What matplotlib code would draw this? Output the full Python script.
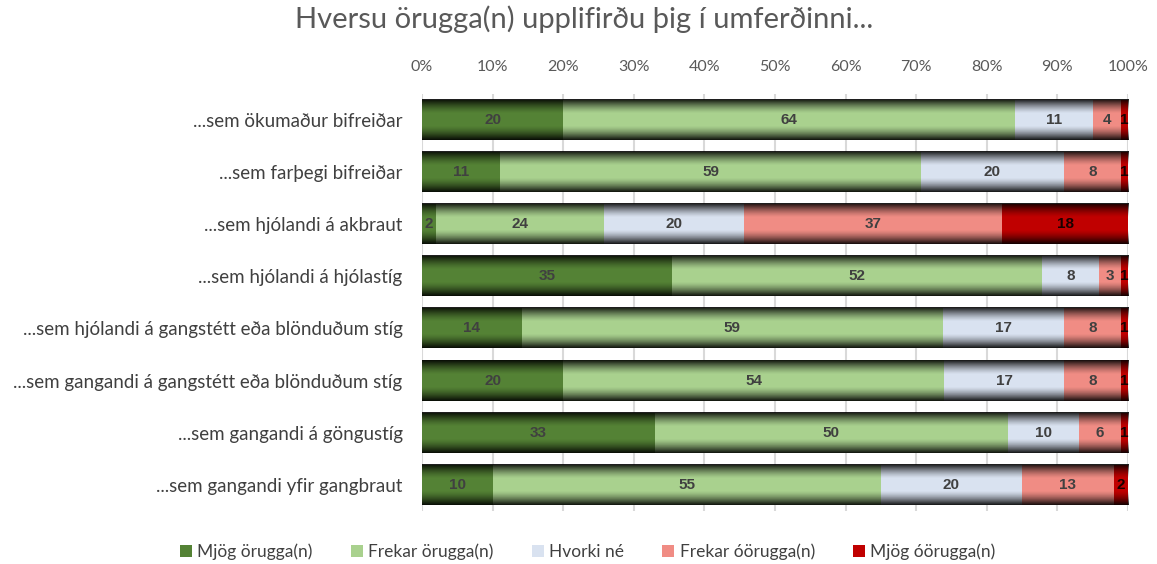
import numpy as np
import matplotlib
matplotlib.use("Agg")
import matplotlib.pyplot as plt
from matplotlib.patches import Patch

plt.rcParams["font.family"] = ["Lato", "DejaVu Sans"]

categories = [
    "...sem ökumaður bifreiðar",
    "...sem farþegi bifreiðar",
    "...sem hjólandi á akbraut",
    "...sem hjólandi á hjólastíg",
    "...sem hjólandi á gangstétt eða blönduðum stíg",
    "...sem gangandi á gangstétt eða blönduðum stíg",
    "...sem gangandi á göngustíg",
    "...sem gangandi yfir gangbraut",
]
series = ["Mjög örugga(n)", "Frekar örugga(n)", "Hvorki né", "Frekar óörugga(n)", "Mjög óörugga(n)"]
mjog_orugg = [20, 11, 2, 35, 14, 20, 33, 10]
frekar_orugg = [64, 59, 24, 52, 59, 54, 50, 55]
hvorki = [11, 20, 20, 8, 17, 17, 10, 20]
frekar_oorugg = [4, 8, 37, 3, 8, 8, 6, 13]
mjog_oorugg = [1, 1, 18, 1, 1, 1, 1, 2]
colors = ["#548235", "#A9D18E", "#D9E2F0", "#F08C84", "#C00000"]
label_colors = ["#404040", "#404040", "#404040", "#404040", "#1a0000"]

values = np.array([mjog_orugg, frekar_orugg, hvorki, frekar_oorugg, mjog_oorugg], dtype=float)
shares = values / values.sum(axis=0) * 100

fig = plt.figure(figsize=(11.57, 5.64), dpi=100)
ax = fig.add_axes([0.3647, 0.094, 0.6102, 0.740])

y = np.arange(len(categories))
h = 0.77
left = np.zeros(len(categories))
for i, name in enumerate(series):
    bars = ax.barh(y, shares[i], left=left, height=h, color=colors[i], label=name, zorder=2)
    for b, v in zip(bars, values[i]):
        ax.text(b.get_x() + b.get_width() / 2, b.get_y() + b.get_height() / 2, f"{v:.0f}",
                ha="center", va="center", fontsize=11, fontweight="bold",
                color=label_colors[i], zorder=4, family=["Liberation Sans", "DejaVu Sans"])
    left += shares[i]

# darker top/bottom edges, like the gradient fill of the original
t = np.linspace(0, 1, 64)
alpha = np.clip(np.abs(t - 0.5) * 2 - 0.3, 0, None) / 0.7
alpha = alpha ** 1.4 * 0.9
shade = np.zeros((64, 2, 4))
shade[..., 3] = alpha[:, None]
for yi in y:
    ax.imshow(shade, extent=(0, 100, yi - h / 2, yi + h / 2), aspect="auto", zorder=3,
              interpolation="bilinear")

ax.set_xlim(0, 100)
ax.set_ylim(len(categories) - 0.5, -0.5)
ax.set_yticks(y)
ax.set_yticklabels(categories, fontsize=13.5, color="#404040")
ax.set_xticks(np.arange(0, 101, 10))
ax.set_xticklabels([f"{p}%" for p in range(0, 101, 10)], fontsize=11.5, color="#595959")
ax.xaxis.tick_top()
ax.tick_params(length=0, pad=14)
ax.tick_params(axis="y", pad=14)
ax.grid(axis="x", color="#D9D9D9", linewidth=1.5, zorder=0)
for s in ax.spines.values():
    s.set_visible(False)

fig.suptitle("Hversu örugga(n) upplifirðu þig í umferðinni...", x=0.505, y=0.99,
             fontsize=21, color="#595959")

handles = [Patch(facecolor=c, label=n) for c, n in zip(colors, series)]
fig.legend(handles=handles, loc="center", bbox_to_anchor=(0.508, 0.022), ncol=5,
           frameon=False, fontsize=12.5, handlelength=0.7, handleheight=0.7,
           handletextpad=0.3, columnspacing=2.2, labelcolor="#404040")

fig.savefig("out.png", dpi=100)
